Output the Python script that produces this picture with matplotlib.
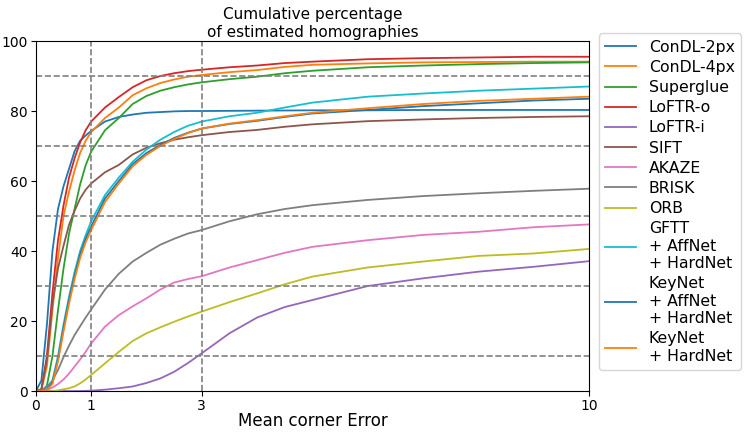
import matplotlib
matplotlib.use("Agg")
import matplotlib.pyplot as plt

# mean corner error thresholds (px)
err = [0, 0.1, 0.2, 0.3, 0.4, 0.5, 0.6, 0.7, 0.8, 0.9, 1.0,
       1.25, 1.5, 1.75, 2.0, 2.25, 2.5, 2.75, 3, 3.5, 4, 4.5, 5, 6, 7, 8, 9, 10]

condl_2px = [0, 3, 19, 40, 52, 58.5, 63.5, 68.5, 71.5, 73, 74.3,
             77, 78.3, 79, 79.5, 79.7, 79.9, 80.0, 80.0, 80.05, 80.1, 80.15, 80.2, 80.2, 80.3, 80.3, 80.3, 80.3]
condl_4px = [0, 0.3, 7, 23, 38, 50, 57, 63, 68, 71.5, 74,
             78, 81, 84.5, 86.5, 88, 89, 89.8, 90.3, 91.1, 91.7, 92.6, 93.2, 93.6, 93.9, 94.0, 94.1, 94.1]
superglue = [0, 0, 1.5, 10, 23, 35, 45, 52, 59, 64.5, 68.4,
             74.5, 78, 82, 84.3, 85.8, 86.8, 87.6, 88.2, 89.1, 89.8, 90.8, 91.5, 92.5, 93.0, 93.4, 93.7, 93.9]
loftr_o = [0, 0.5, 10, 28, 43, 53, 61, 66.5, 71, 74.5, 77,
           81, 84, 86.8, 88.8, 90, 90.8, 91.4, 91.8, 92.5, 93, 93.7, 94.1, 94.8, 95.1, 95.3, 95.5, 95.5]
loftr_i = [0, 0, 0, 0, 0, 0, 0, 0, 0, 0.05, 0.1,
           0.4, 0.8, 1.3, 2.3, 3.6, 5.5, 8, 10.8, 16.5, 21, 24, 26, 30, 32.2, 34.1, 35.5, 37.1]
sift = [0, 0.5, 9, 25, 35, 41.5, 47.5, 51.5, 55, 57.5, 59.3,
        62.5, 64.6, 67.6, 69.5, 70.8, 71.8, 72.5, 73.1, 74, 74.6, 75.5, 76.2, 77.1, 77.6, 78.0, 78.3, 78.5]
akaze = [0, 0, 0.3, 1, 2, 3.3, 5, 7, 9, 11.2, 13.6,
         18.4, 21.7, 24.2, 26.5, 29, 31, 32, 32.8, 35.3, 37.4, 39.5, 41.2, 43.1, 44.6, 45.5, 46.8, 47.6]
brisk = [0, 0.2, 1.2, 3, 6, 9.7, 13, 16, 18.5, 21, 23.3,
         29, 33.5, 37, 39.5, 41.8, 43.5, 45, 46, 48.5, 50.5, 52, 53.1, 54.6, 55.7, 56.5, 57.2, 57.8]
orb = [0, 0, 0, 0, 0.2, 0.5, 0.8, 1.3, 2.2, 3.3, 4.6,
       7.9, 11.2, 14.3, 16.5, 18.2, 19.8, 21.3, 22.7, 25.4, 27.9, 30.5, 32.7, 35.3, 37, 38.6, 39.3, 40.6]
gftt_aff_hard = [0, 0, 0.5, 3, 10, 19, 27, 34, 40, 44.5, 48.5,
                 56, 61, 65.5, 69, 71.8, 74, 75.8, 77, 78.5, 79.5, 81, 82.4, 84.1, 85, 85.8, 86.4, 87]
keynet_aff_hard = [0, 0, 0.4, 2.5, 9, 18, 26, 33, 39, 43.5, 47,
                   55, 60, 64.8, 68, 70.3, 72.3, 73.8, 75, 76.3, 77.2, 78.3, 79.3, 80.3, 81.4, 82.2, 83, 83.5]
keynet_hard = [0, 0, 0.3, 2, 8.5, 17, 25, 32, 38, 42.5, 46,
               54, 59.3, 64.2, 67.5, 70, 72, 73.7, 75, 76.4, 77.4, 78.5, 79.5, 80.8, 82, 82.9, 83.5, 84.1]

names = ["ConDL-2px", "ConDL-4px", "Superglue", "LoFTR-o", "LoFTR-i", "SIFT",
         "AKAZE", "BRISK", "ORB", "GFTT\n+ AffNet\n+ HardNet",
         "KeyNet\n+ AffNet\n+ HardNet", "KeyNet\n+ HardNet"]
curves = [condl_2px, condl_4px, superglue, loftr_o, loftr_i, sift,
          akaze, brisk, orb, gftt_aff_hard, keynet_aff_hard, keynet_hard]

vlines = [1, 3]
hlines = [10, 30, 50, 70, 90]

fig = plt.figure(figsize=(7.47, 4.34), dpi=100)
ax = fig.add_axes([0.048, 0.099, 0.7405, 0.8065])

for y, name in zip(curves, names):
    ax.plot(err, y, label=name, lw=1.3)

for v in vlines:
    ax.axvline(v, color='gray', ls='--', lw=1.2)
for h in hlines:
    ax.axhline(h, color='gray', ls='--', lw=1.2)

ax.set_xlim(0, 10)
ax.set_ylim(0, 100)
ax.set_xticks([0, 1, 3, 10])
ax.tick_params(labelsize=10, pad=2.5)
ax.set_xlabel("Mean corner Error", fontsize=12, labelpad=-1)
ax.set_title("Cumulative percentage\nof estimated homographies", fontsize=11, pad=3)
ax.legend(loc='upper left', bbox_to_anchor=(1.003, 1.044), fontsize=11.3,
          handlelength=2.0, labelspacing=0.33)

fig.savefig("out.png", dpi=100)
